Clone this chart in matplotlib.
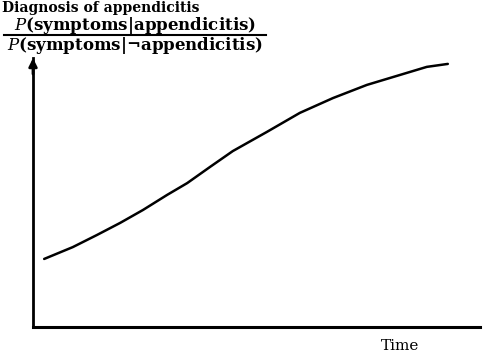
import numpy as np
import matplotlib.pyplot as plt

# data (time and likelihood ratio, both 0..100 scale)
time = [2.5, 8.9, 14.3, 19.5, 24.6, 30.0, 34.5, 39.6, 44.7, 52.3,
        59.7, 67.1, 74.7, 82.1, 88.1, 92.8]
ratio = [25.3, 29.7, 34.2, 38.7, 43.5, 49.1, 53.5, 59.5, 65.4, 72.5,
         79.6, 85.1, 90.0, 93.7, 96.7, 97.8]

plt.rcParams['font.family'] = ['DejaVu Serif']
plt.rcParams['mathtext.fontset'] = 'dejavuserif'

fig = plt.figure(figsize=(4.96, 3.54), dpi=100)
ax = fig.add_axes([33 / 496, 1 - 327 / 354, (480 - 33) / 496, (327 - 58) / 354])
ax.set_xlim(0, 100)
ax.set_ylim(0, 100)

ax.plot(time, ratio, color='black', lw=1.8, solid_capstyle='round',
        solid_joinstyle='round')

# axes: left with arrow, bottom plain
for s in ['top', 'right']:
    ax.spines[s].set_visible(False)
ax.spines['left'].set_linewidth(2)
ax.spines['bottom'].set_linewidth(2.2)
ax.set_xticks([])
ax.set_yticks([])
ax.annotate('', xy=(0, 101), xytext=(0, 93), xycoords='data',
            arrowprops=dict(arrowstyle='-|>', color='black', lw=2, mutation_scale=12),
            annotation_clip=False)

fig.text(400 / 496, 1 - 346 / 354, 'Time', ha='center', va='center', fontsize=11)

# title and fraction label at top
fig.text(2 / 496, 1 - 1 / 354, 'Diagnosis of appendicitis', ha='left', va='top',
         fontsize=10, fontweight='bold')
fig.text(135 / 496, 1 - 25 / 354, r'$P$(symptoms|appendicitis)', ha='center',
         va='center', fontsize=12, fontweight='bold')
fig.text(135 / 496, 1 - 46 / 354, r'$P$(symptoms|¬appendicitis)', ha='center',
         va='center', fontsize=12, fontweight='bold')
fig.add_artist(plt.Line2D([4 / 496, 266 / 496], [1 - 35 / 354, 1 - 35 / 354],
                          color='black', lw=1.5))

fig.savefig('out.png', dpi=100)
